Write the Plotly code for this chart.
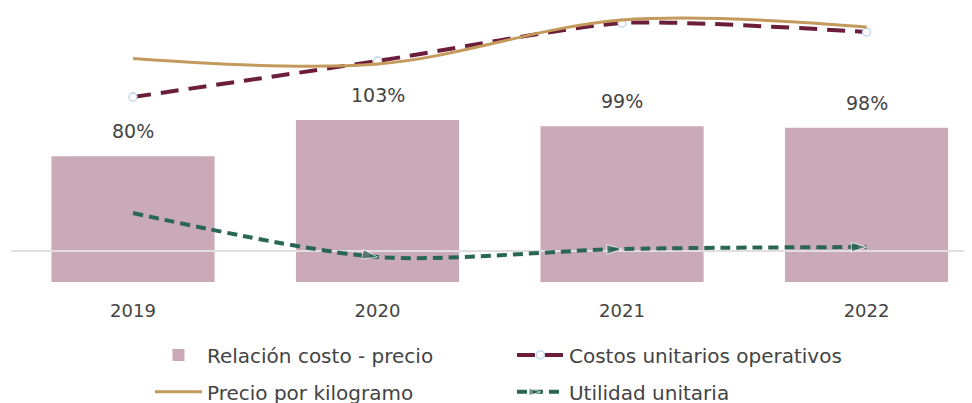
import plotly.graph_objects as go

years = [2019, 2020, 2021, 2022]
year_labels = ["2019", "2020", "2021", "2022"]
relacion_costo_precio = [80, 103, 99, 98]           # %
costos_unitarios = [15.4, 19.0, 22.8, 21.9]          # $/kg (estimated)
precio_kg = [19.25, 18.7, 23.1, 22.4]                # $/kg (estimated)
utilidad_unitaria = [3.8, -0.6, 0.2, 0.4]            # $/kg (estimated)

FONT = "DejaVu Sans"
FS = 18
BFS = 19
LFS = 20
BAR_C = "#C9AAB6"
GUINDA = "#6B1D3A"
GOLD = "#C49A5C"
GREEN = "#2A6654"
TXT = "#444444"

x_range = [2018.501, 2022.464]

fig = go.Figure()
fig.add_trace(go.Bar(
    x=years, y=relacion_costo_precio, name="Relación costo - precio",
    marker=dict(color=BAR_C, line=dict(width=0)), yaxis="y", legend="legend",
    hoverinfo="skip"))

# zero reference line of secondary axis
fig.add_trace(go.Scatter(
    x=x_range, y=[0, 0], mode="lines", yaxis="y2", showlegend=False,
    line=dict(color="#E2DEDF", width=2), hoverinfo="skip"))

fig.add_trace(go.Scatter(
    x=years, y=costos_unitarios, name="Costos unitarios operativos", yaxis="y2",
    mode="lines+markers", legend="legend",
    line=dict(color=GUINDA, width=4, dash="18px,10px", shape="spline", smoothing=0.6),
    marker=dict(symbol="circle", size=8, color="white", line=dict(color="#BDD3EA", width=1.3))))

fig.add_trace(go.Scatter(
    x=years, y=precio_kg, name="Precio por kilogramo", yaxis="y2",
    mode="lines", legend="legend2",
    line=dict(color=GOLD, width=3, shape="spline", smoothing=1)))

fig.add_trace(go.Scatter(
    x=years, y=utilidad_unitaria, name="Utilidad unitaria", yaxis="y2",
    mode="lines+markers", legend="legend2",
    line=dict(color=GREEN, width=4, dash="10px,6px", shape="spline", smoothing=0.8),
    marker=dict(symbol="arrow", angleref="previous", size=[0, 16, 16, 16], color=GREEN)))

for yr, v in zip(years, relacion_costo_precio):
    fig.add_annotation(x=yr, y=v, yref="y", text=f"{v}%", showarrow=False,
                       yanchor="bottom", yshift=12, font=dict(family=FONT, size=BFS, color=TXT))

legend_common = dict(orientation="h", x=0.1434, xanchor="left", yanchor="middle",
                     entrywidth=300, entrywidthmode="pixels", itemwidth=47,
                     font=dict(family=FONT, size=LFS, color=TXT), bgcolor="rgba(0,0,0,0)")

fig.update_layout(
    width=972, height=403,
    margin=dict(l=3, r=0, t=0, b=129, autoexpand=False),
    plot_bgcolor="white", paper_bgcolor="white",
    bargap=0.333,
    font=dict(family=FONT, size=FS, color=TXT),
    xaxis=dict(range=x_range, tickmode="array", tickvals=years, ticktext=year_labels,
               showgrid=False, zeroline=False, showline=False,
               ticks="outside", ticklen=12, tickcolor="rgba(0,0,0,0)",
               tickfont=dict(family=FONT, size=FS, color=TXT)),
    yaxis=dict(range=[0, 174.2], visible=False, fixedrange=True),
    yaxis2=dict(range=[-3.1, 24.3], overlaying="y", visible=False),
    legend=dict(y=-0.266, **legend_common),
    legend2=dict(y=-0.401, **legend_common),
    showlegend=True,
)

fig.write_html("out.html")
